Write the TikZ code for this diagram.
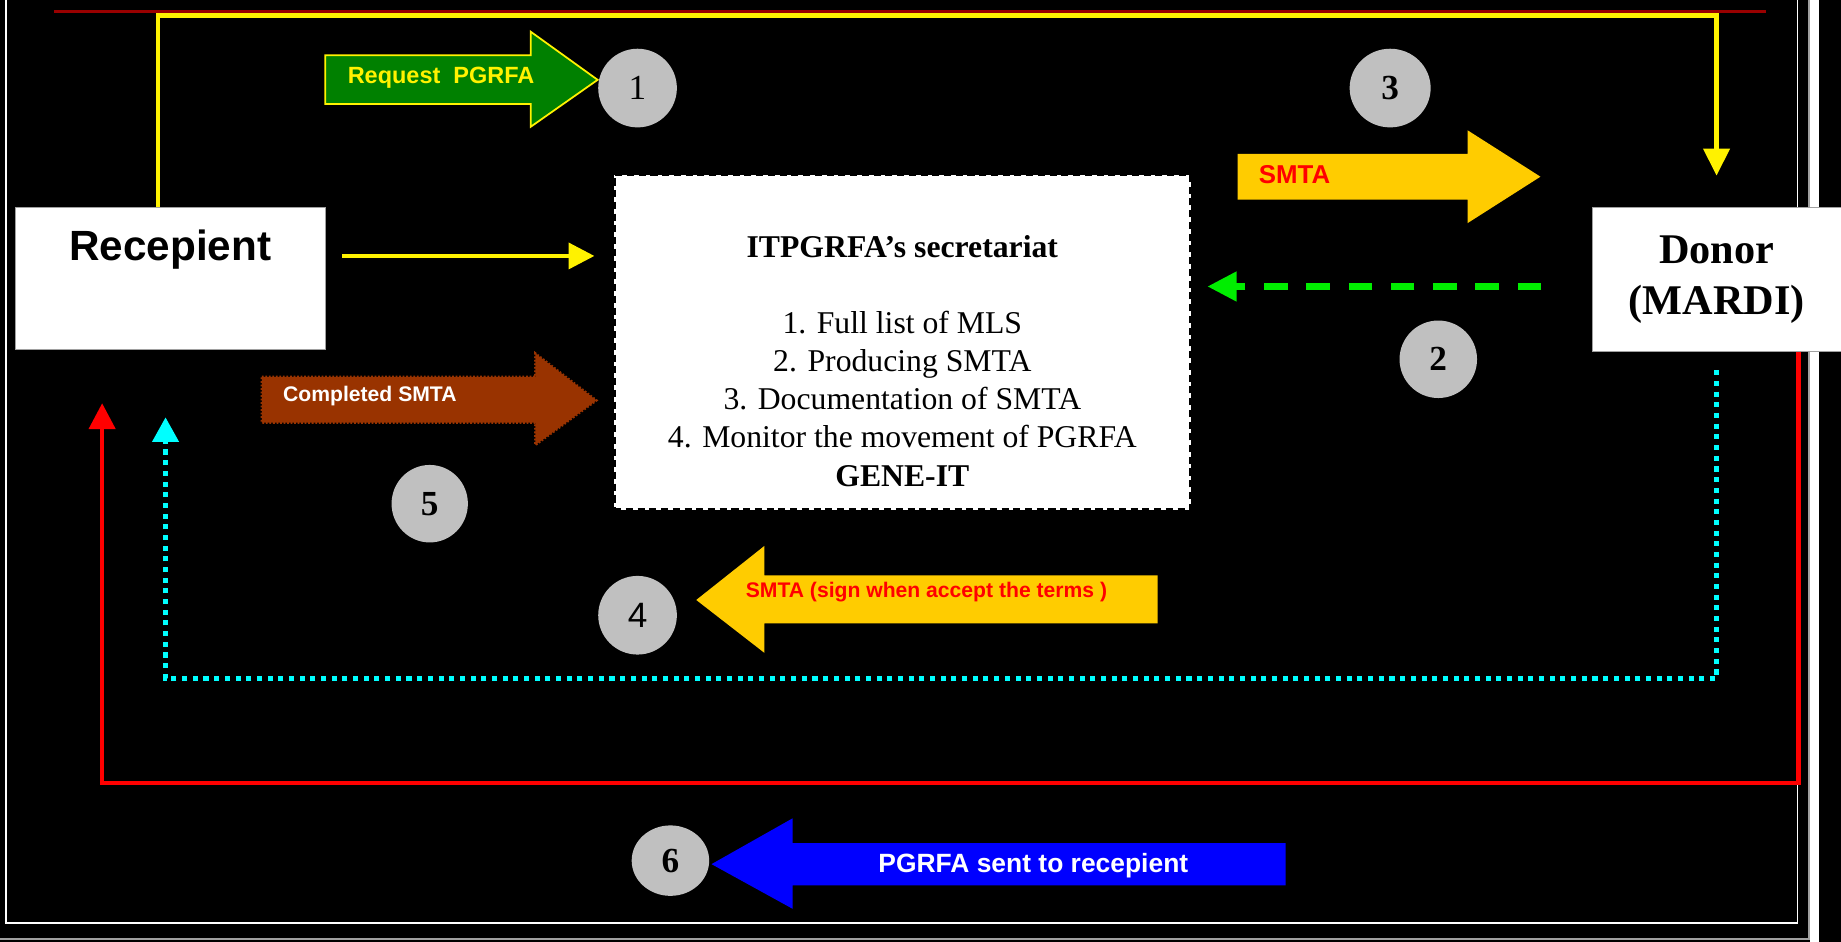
\documentclass[tikz,border=0pt]{standalone}
\usepackage{fontspec}
\setmainfont{Liberation Serif}
\newfontfamily\arialfont{Liberation Sans}
\usetikzlibrary{shapes.geometric,arrows.meta}
\definecolor{ribbonred}{HTML}{990000}
\definecolor{reqgreen}{HTML}{008000}
\definecolor{smtaorange}{HTML}{FFCC00}
\definecolor{completedbrown}{HTML}{993300}
\definecolor{sentblue}{HTML}{0000FF}
\definecolor{replygreen}{HTML}{00EE00}
\definecolor{trackcyan}{HTML}{00FFFF}
\definecolor{discgray}{HTML}{C0C0C0}
\definecolor{framegray}{HTML}{A0A0A0}

\begin{document}
\begin{tikzpicture}[x=1pt,y=-1pt,
		whitebox/.style={draw=framegray,fill=white,line width=0.8pt,inner sep=0pt},
		numdisc/.style={ellipse,fill=discgray,minimum width=67pt,minimum height=67pt,inner sep=0pt,font=\bfseries\fontsize{30}{30}\selectfont},
		arrowtext/.style={anchor=base west,inner sep=0pt,font=\arialfont\bfseries\fontsize{#1}{#1}\selectfont},
		yelline/.style={draw=yellow,line width=4pt},
		redline/.style={draw=red,line width=4pt},
		cyandot/.style={draw=trackcyan,line width=4pt,dash pattern=on 4.3pt off 4.8pt},
		gdash/.style={draw=replygreen,line width=6pt,dash pattern=on 20pt off 16pt}]
			\fill[black] (0,0) rectangle (1568,802);
			\useasboundingbox (0,0) rectangle (1568,802);
			\draw[white,line width=1.5pt] (5,0) -- (5,786) -- (1531,786) -- (1531,0);
			\draw[framegray,line width=1.5pt] (0,800) -- (1541,800) -- (1541,0);
			\fill[white] (1542,0) rectangle (1549,802);
			\draw[ribbonred,line width=2.5pt] (46,10) -- (1504,10);
			\node[whitebox,minimum width=264pt,minimum height=121pt] (recipient) at (145,237.5) {};
			\node[anchor=base,inner sep=0pt,font=\arialfont\bfseries\fontsize{36}{43}\selectfont] (recipientlabel) at (145,221.5) {Recepient};
			\node[whitebox,minimum width=212pt,minimum height=122pt,align=center,font=\bfseries\fontsize{36}{43}\selectfont] (donor) at (1462,238) {Donor\\(MARDI)};
			\node[draw=black,fill=white,line width=2.5pt,dash pattern=on 6pt off 4pt,minimum width=491pt,minimum height=285pt] (secretariat) at (768.5,291.5) {};
			\node[anchor=north,align=center,inner sep=0pt,font=\fontsize{27}{32.5}\selectfont] (secretext) at (768.5,200) {\textbf{ITPGRFA’s secretariat}\\[32.5pt]1. Full list of MLS\\2. Producing SMTA\\3. Documentation of SMTA\\4. Monitor the movement of PGRFA\\\textbf{GENE-IT}};
			\node[numdisc] (step1) at (543,75) {\mdseries 1};
			\node[numdisc,minimum width=69pt] (step3) at (1184,75) {3};
			\node[numdisc,minimum width=66pt,minimum height=66pt] (step2) at (1225,306) {2};
			\node[numdisc,minimum width=65pt,minimum height=66pt] (step5) at (366,429) {5};
			\node[numdisc] (step4) at (543,524) {\arialfont\mdseries 4};
			\node[numdisc,minimum width=66pt,minimum height=60pt] (step6) at (571,733) {6};
			\filldraw[fill=reqgreen,draw=yellow,line width=1.5pt] (277,47) -- (452,47) -- (452,27) -- (509,68) -- (452,108) -- (452,88.6) -- (277,88.6) -- cycle;
			\node[arrowtext=20,text=yellow] (requestlabel) at (296,71) {Request\ \ PGRFA};
			\fill[smtaorange] (1054,131) -- (1250,131) -- (1250,111) -- (1312,150.5) -- (1250,190) -- (1250,170) -- (1054,170) -- cycle;
			\node[arrowtext=22,text=red] (smtalabel) at (1072,156) {SMTA};
			\filldraw[fill=completedbrown,draw=completedbrown,line width=2pt,dash pattern=on 1.5pt off 1.5pt] (223,321) -- (456,321) -- (456,301) -- (508,341) -- (456,379) -- (456,360) -- (223,360) -- cycle;
			\node[arrowtext=18,text=white] (completedlabel) at (241,342) {Completed SMTA};
			\fill[smtaorange] (986,490) -- (651,490) -- (651,465) -- (593,511) -- (651,556) -- (651,531) -- (986,531) -- cycle;
			\node[arrowtext=18,text=red] (signlabel) at (635,509) {SMTA (sign when accept the terms )};
			\fill[sentblue] (1095,718) -- (675,718) -- (675,697) -- (606,736) -- (675,774) -- (675,754) -- (1095,754) -- cycle;
			\node[arrowtext=22.5,text=white] (sentlabel) at (748,743) {PGRFA sent to recepient};
			\draw[yelline,-{Triangle[length=23pt,width=22pt]},shorten >=27pt] (recipient.north -| 134.6,0) |- (donor.north |- 0,13.4) -- (donor.north);
			\draw[yelline,line width=3.5pt,-{Triangle[length=22pt,width=22pt]},shorten <=14pt,shorten >=15.5pt] (recipient.east |- 0,218) -- (secretariat.west |- 0,218);
			\draw[gdash,-{Triangle[length=25pt,width=24pt]},shorten <=43pt,shorten >=13pt] (donor.west |- 0,244) -- (secretariat.east |- 0,244);
			\draw[cyandot,-{Triangle[length=21pt,width=22pt]},shorten <=16pt,shorten >=57pt] (donor.south) |- (141,578) -- (recipient.south -| 141,0);
			\draw[redline,-{Triangle[length=22pt,width=22pt]},shorten >=45pt] ([xshift=70pt]donor.south) |- (87,667) -- (recipient.south -| 87,0);
		\end{tikzpicture}
\end{document}
